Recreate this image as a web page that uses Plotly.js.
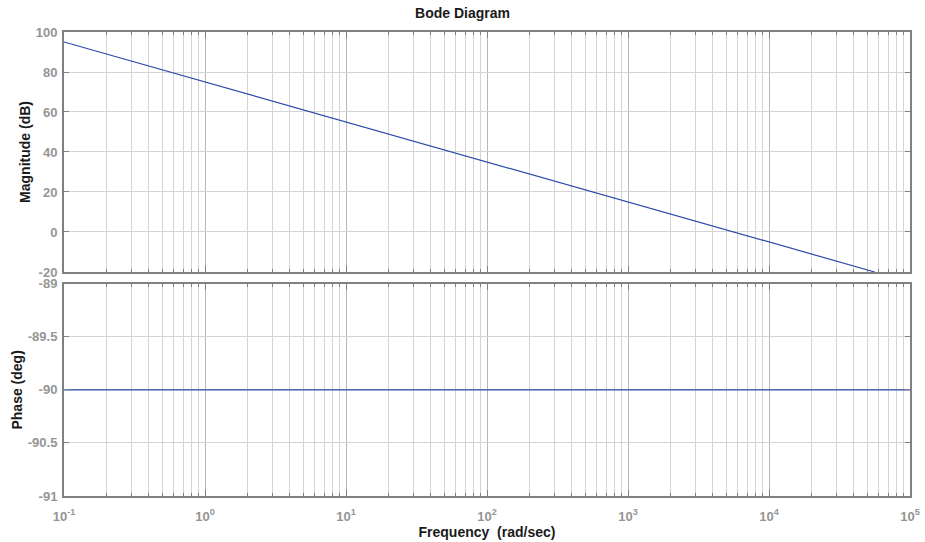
<!DOCTYPE html>
<html>
<head>
<meta charset="utf-8">
<script src="https://cdn.plot.ly/plotly-3.0.1.min.js"></script>
<style>html,body{margin:0;padding:0;background:#fff;}#chart{width:925px;height:542px;}</style>
</head>
<body>
<div id="chart"></div>
<script>
// Data
const freq = [0.1, 1, 10, 100, 1000, 10000, 56234];
const magnitude = [95, 75, 55, 35, 15, -5, -20];
const phaseFreq = [0.1, 1, 10, 100, 1000, 10000, 100000];
const phase = [-90, -90, -90, -90, -90, -90, -90];
const decadeTicks = [0.1, 1, 10, 100, 1000, 10000, 100000];
const decadeLabels = ['10<sup>-1</sup>', '10<sup>0</sup>', '10<sup>1</sup>', '10<sup>2</sup>', '10<sup>3</sup>', '10<sup>4</sup>', '10<sup>5</sup>'];
const magTicks = [-20, 0, 20, 40, 60, 80, 100];
const magLabels = ['-20', '0', '20', '40', '60', '80', '100'];
const phaseTicks = [-91, -90.5, -90, -89.5, -89];
const phaseLabels = ['-91', '-90.5', '-90', '-89.5', '-89'];

const minorVals = [];
for (let d = 0; d < 6; d++) {
  for (let k = 2; k <= 9; k++) minorVals.push(k * decadeTicks[d]);
}

const lineColor = '#2a4aa8';
const gridColor = '#d4d4d4';
const axisColor = '#808080';
const tickFont = {family: 'Liberation Sans, Arial, sans-serif', size: 13, color: '#959595', weight: 'bold'};
const labelFont = {family: 'Liberation Sans, Arial, sans-serif', size: 14, color: '#1a1a1a', weight: 'bold'};

function xaxisCfg(showLabels, anchor) {
  return {
    type: 'log', range: [-1, 5], anchor: anchor,
    tickvals: decadeTicks, ticktext: decadeLabels, showticklabels: showLabels,
    showgrid: true, gridcolor: '#b8b8b8', gridwidth: 1,
    ticks: 'inside', ticklen: 6, tickcolor: axisColor, mirror: 'allticks',
    showline: true, linecolor: axisColor, linewidth: 2,
    minor: {tickvals: minorVals, showgrid: true, gridcolor: gridColor, ticks: 'inside', ticklen: 3, tickcolor: axisColor},
    tickfont: tickFont, zeroline: false, ticklabelstandoff: 7
  };
}

const traces = [
  {x: freq, y: magnitude, type: 'scatter', mode: 'lines', line: {color: lineColor, width: 1.2}, xaxis: 'x', yaxis: 'y', hoverinfo: 'skip'},
  {x: phaseFreq, y: phase, type: 'scatter', mode: 'lines', line: {color: lineColor, width: 1.2}, xaxis: 'x2', yaxis: 'y2', hoverinfo: 'skip'}
];

const xa = xaxisCfg(false, 'y');
xa.matches = 'x2';
const xa2 = xaxisCfg(true, 'y2');
xa2.title = {text: 'Frequency  (rad/sec)', font: labelFont, standoff: 4};

const layout = {
  width: 925, height: 542,
  margin: {l: 64, r: 15, t: 32, b: 46},
  paper_bgcolor: '#fff', plot_bgcolor: '#fff',
  showlegend: false,
  title: {text: 'Bode Diagram', font: {family: 'Liberation Sans, Arial, sans-serif', size: 14, color: '#1a1a1a', weight: 'bold'}, x: 0.5, xanchor: 'center', y: 0.985, yanchor: 'top'},
  xaxis: xa,
  xaxis2: xa2,
  yaxis: {
    domain: [0.4828, 1], range: [-20, 100], tickvals: magTicks, ticktext: magLabels, anchor: 'x',
    showgrid: true, gridcolor: gridColor, zeroline: false,
    ticks: 'inside', ticklen: 5, tickcolor: axisColor, mirror: 'allticks',
    showline: true, linecolor: axisColor, linewidth: 2,
    tickfont: tickFont, ticklabelstandoff: 2,
    title: {text: 'Magnitude (dB)', font: labelFont, standoff: 2}
  },
  yaxis2: {
    domain: [0, 0.4575], range: [-91, -89], tickvals: phaseTicks, ticktext: phaseLabels, anchor: 'x2',
    showgrid: true, gridcolor: gridColor, zeroline: false,
    ticks: 'inside', ticklen: 5, tickcolor: axisColor, mirror: 'allticks',
    showline: true, linecolor: axisColor, linewidth: 2,
    tickfont: tickFont, ticklabelstandoff: 2,
    title: {text: 'Phase (deg)', font: labelFont, standoff: 2}
  }
};

Plotly.newPlot('chart', traces, layout, {staticPlot: true, displayModeBar: false});
</script>
</body>
</html>
